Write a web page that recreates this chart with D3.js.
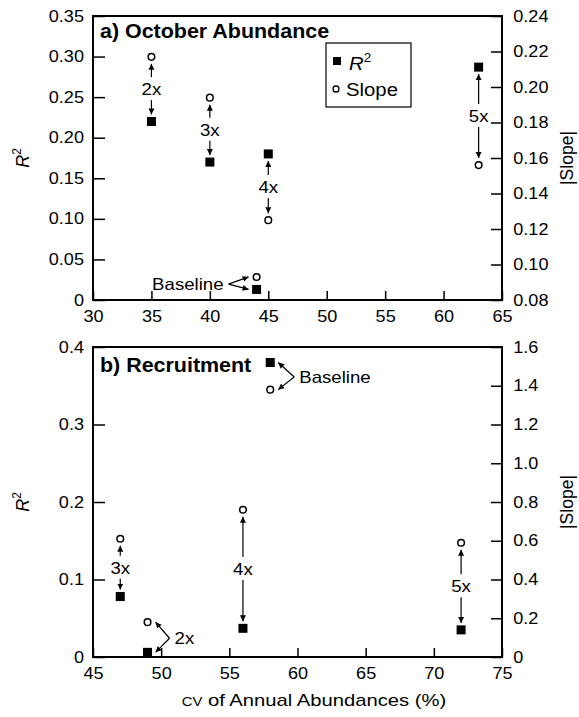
<!DOCTYPE html>
<html>
<head>
<meta charset="utf-8">
<script src="https://cdn.jsdelivr.net/npm/d3@7"></script>
<style>
  body { margin: 0; background: #fff; }
  text { font-family: "Liberation Sans", Arial, Helvetica, sans-serif; fill: #000; }
</style>
</head>
<body>
<script>
// panel a) October abundance
var a_labels = ["2x", "3x", "4x", "5x", "Baseline"]
var a_cv     = [35, 40, 45, 63, 44]
var a_r2     = [0.22, 0.17, 0.18, 0.287, 0.013]
var a_slope  = [0.217, 0.194, 0.125, 0.156, 0.093]
var a_xticks  = [30, 35, 40, 45, 50, 55, 60, 65]
var a_r2ticks = [0, 0.05, 0.10, 0.15, 0.20, 0.25, 0.30, 0.35]
var a_slticks = [0.08, 0.10, 0.12, 0.14, 0.16, 0.18, 0.20, 0.22, 0.24]

// panel b) Recruitment
var b_labels = ["2x", "3x", "4x", "5x", "Baseline"]
var b_cv     = [49, 47, 56, 72, 58]
var b_r2     = [0.006, 0.078, 0.037, 0.035, 0.38]
var b_slope  = [0.18, 0.61, 0.76, 0.59, 1.38]
var b_xticks  = [45, 50, 55, 60, 65, 70, 75]
var b_r2ticks = [0, 0.1, 0.2, 0.3, 0.4]
var b_slticks = [0, 0.2, 0.4, 0.6, 0.8, 1.0, 1.2, 1.4, 1.6]

var W = 579, H = 717
var SX = 1.13   // the original scan is a bit wider than tall
var svg = d3.select("body").append("svg").attr("width", W).attr("height", H)

var defs = svg.append("defs")
defs.append("marker")
  .attr("id", "ah")
  .attr("viewBox", "0 0 10 10")
  .attr("refX", 10).attr("refY", 5)
  .attr("markerWidth", 6).attr("markerHeight", 7)
  .attr("markerUnits", "userSpaceOnUse")
  .attr("orient", "auto")
  .append("path").attr("d", "M0,0 L10,5 L0,10 z").attr("fill", "#000")

function fmt(dec) {
  return function(d) { return d === 0 ? "0" : d.toFixed(dec) }
}

// text placed at x,y and stretched horizontally
function txt(sel, x, y, s, size, sx) {
  return sel.append("text")
    .attr("transform", "translate(" + x + "," + y + ") scale(" + (sx || SX) + ",1)")
    .attr("font-size", size)
    .text(s)
}

function panel(p) {
  var g = svg.append("g")
  var x  = d3.scaleLinear().domain(p.xdom).range([p.left, p.right])
  var yl = d3.scaleLinear().domain(p.ldom).range([p.bottom, p.top])
  var yr = d3.scaleLinear().domain(p.rdom).range([p.bottom, p.top])

  var xa = g.append("g").attr("transform", "translate(0," + p.bottom + ")")
    .call(d3.axisBottom(x).tickValues(p.xticks).tickSize(-9).tickPadding(11).tickFormat(d3.format("d")))
  var la = g.append("g").attr("transform", "translate(" + p.left + ",0)")
    .call(d3.axisLeft(yl).tickValues(p.lticks).tickSize(-12).tickPadding(8).tickFormat(fmt(p.ldec)))
  var ra = g.append("g").attr("transform", "translate(" + p.right + ",0)")
    .call(d3.axisRight(yr).tickValues(p.rticks).tickSize(-11).tickPadding(10).tickFormat(fmt(p.rdec)))
  ;[xa, la, ra].forEach(function(a) {
    a.select(".domain").remove()
    a.selectAll("line").attr("stroke", "#000").attr("stroke-width", 1.5)
    a.selectAll("text").attr("font-size", 16).attr("fill", "#000")
      .attr("transform", "scale(" + SX + ",1)")
      .style("font-family", '"Liberation Sans", Arial, sans-serif')
  })

  g.append("rect")
    .attr("x", p.left).attr("y", p.top)
    .attr("width", p.right - p.left).attr("height", p.bottom - p.top)
    .attr("fill", "none").attr("stroke", "#000").attr("stroke-width", 2)

  txt(g, p.left + 7, p.top + p.titleDy, p.title, 19.5, 1.1).attr("font-weight", "bold")

  // axis titles
  var my = (p.top + p.bottom) / 2
  var rt = g.append("text").attr("transform", "translate(29," + my + ") rotate(-90)")
    .attr("text-anchor", "middle").attr("font-size", 18)
  rt.append("tspan").attr("font-style", "italic").text("R")
  rt.append("tspan").attr("font-size", 12).attr("dy", -8).text("2")
  g.append("text").attr("transform", "translate(573," + my + ") rotate(-90)")
    .attr("text-anchor", "middle").attr("font-size", 17.5).text("|Slope|")

  // arrows and labels
  p.labels.forEach(function(lab, i) {
    var px = x(p.cv[i]), ys = yl(p.r2[i]), yc = yr(p.slope[i])
    var st = p.style[i]
    if (st === "v") {
      var mid = (ys + yc) / 2
      var up = Math.min(ys, yc), dn = Math.max(ys, yc)
      g.append("line").attr("x1", px).attr("y1", mid - 12).attr("x2", px).attr("y2", up + 7)
        .attr("stroke", "#000").attr("stroke-width", 1.2).attr("marker-end", "url(#ah)")
      g.append("line").attr("x1", px).attr("y1", mid + 11).attr("x2", px).attr("y2", dn - 7)
        .attr("stroke", "#000").attr("stroke-width", 1.2).attr("marker-end", "url(#ah)")
      txt(g, px, mid + 6, lab, 16.5).attr("text-anchor", "middle")
    } else {
      var dir = st === "left" ? -1 : 1
      var vx = px + dir * p.bOff[i], vy = (ys + yc) / 2 + 1
      ;[ys, yc].forEach(function(ty) {
        g.append("line").attr("x1", vx).attr("y1", vy).attr("x2", px + dir * 8).attr("y2", ty)
          .attr("stroke", "#000").attr("stroke-width", 1.2).attr("marker-end", "url(#ah)")
      })
      txt(g, vx + dir * 5, vy + 6, lab, 16.5).attr("text-anchor", dir < 0 ? "end" : "start")
    }
  })

  // points
  g.selectAll(".sq").data(p.cv).enter().append("rect")
    .attr("x", function(d) { return x(d) - 4.5 })
    .attr("y", function(d, i) { return yl(p.r2[i]) - 4.5 })
    .attr("width", 9).attr("height", 9).attr("fill", "#000")
  g.selectAll(".ci").data(p.cv).enter().append("circle")
    .attr("cx", function(d) { return x(d) })
    .attr("cy", function(d, i) { return yr(p.slope[i]) })
    .attr("r", 3.3).attr("fill", "#fff").attr("stroke", "#000").attr("stroke-width", 1.5)
  return g
}

panel({
  left: 93, right: 502, top: 16, bottom: 300,
  xdom: [30, 65], ldom: [0, 0.35], rdom: [0.08, 0.24],
  xticks: a_xticks, lticks: a_r2ticks, rticks: a_slticks, ldec: 2, rdec: 2,
  title: "a) October Abundance", titleDy: 22,
  labels: a_labels, cv: a_cv, r2: a_r2, slope: a_slope,
  style: ["v", "v", "v", "v", "left"], bOff: [0, 0, 0, 0, 28]
})

panel({
  left: 93, right: 502, top: 347, bottom: 657,
  xdom: [45, 75], ldom: [0, 0.4], rdom: [0, 1.6],
  xticks: b_xticks, lticks: b_r2ticks, rticks: b_slticks, ldec: 1, rdec: 1,
  title: "b) Recruitment", titleDy: 25,
  labels: b_labels, cv: b_cv, r2: b_r2, slope: b_slope,
  style: ["right", "v", "v", "v", "right"], bOff: [22, 0, 0, 0, 24]
})

// legend
var lg = svg.append("g")
lg.append("rect").attr("x", 326).attr("y", 43).attr("width", 85).attr("height", 64)
  .attr("fill", "#fff").attr("stroke", "#000").attr("stroke-width", 1.2)
lg.append("rect").attr("x", 333).attr("y", 57).attr("width", 8).attr("height", 8).attr("fill", "#000")
var lt = txt(lg, 349, 70, "", 18)
lt.append("tspan").attr("font-style", "italic").text("R")
lt.append("tspan").attr("font-size", 12).attr("dy", -8).text("2")
lg.append("circle").attr("cx", 336).attr("cy", 89).attr("r", 3).attr("fill", "#fff")
  .attr("stroke", "#000").attr("stroke-width", 1.3)
txt(lg, 346, 96, "Slope", 18)

// x axis title
var xt = txt(svg, 314, 706, "", 17, 1.19).attr("text-anchor", "middle")
xt.append("tspan").attr("font-size", 12.5).text("CV")
xt.append("tspan").text(" of Annual Abundances (%)")
</script>
</body>
</html>
